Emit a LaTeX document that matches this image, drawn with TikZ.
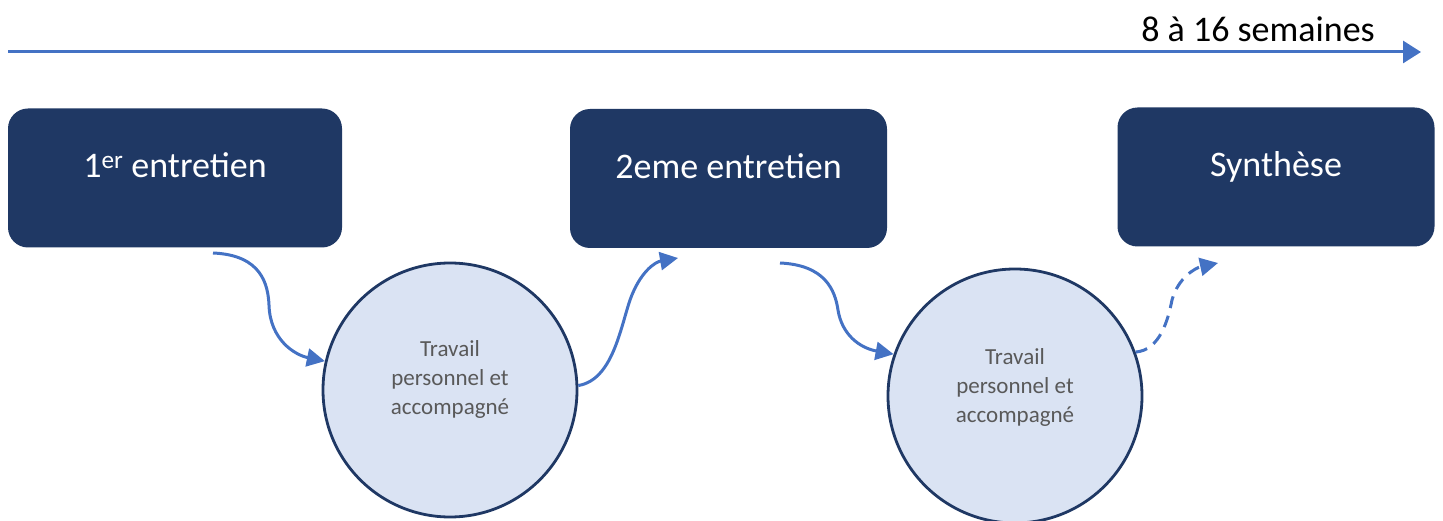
\documentclass[tikz,border=0pt]{standalone}
\usepackage{fontspec}
\setmainfont{Carlito}
\usetikzlibrary{arrows.meta}
\definecolor{navy}{HTML}{1F3864}
\definecolor{flowblue}{HTML}{4472C4}
\definecolor{worklight}{HTML}{DAE3F3}
\definecolor{worktext}{HTML}{595959}

\begin{document}
\begin{tikzpicture}[x=1pt,y=-1pt,
  stage/.style={fill=navy,rounded corners=20pt,minimum width=317pt,minimum height=139pt,
    inner sep=0pt,text=white,font=\fontsize{36}{43}\selectfont,text height=30pt,text depth=30pt},
  work/.style={circle,draw=navy,line width=2.8pt,fill=worklight,minimum size=254pt,inner sep=0pt},
  worklabel/.style={text=worktext,align=center,font=\fontsize{23}{29}\selectfont},
  flow/.style={draw=flowblue,line width=3pt,-{Triangle[length=18pt,width=18pt]}}]
\useasboundingbox (0,0) rectangle (1443,521);
\coordinate (tstart) at (8,52);
\coordinate (tend) at (1421,52);
\draw[flowblue,line width=3pt,-{Triangle[length=18pt,width=22pt]}] (tstart) -- (tend);
\node[anchor=base east,inner sep=0pt,font=\fontsize{36}{42}\selectfont] (weeks) at (1375,42) {8 à 16 semaines};
\node[stage,minimum width=334pt] (first) at (175,178) {1\textsuperscript{er} entretien};
\node[stage] (second) at (728.5,178.5) {2eme entretien};
\node[stage] (synth) at (1276,177) {Synthèse};
\node[work] (work1) at (450,390) {};
\node[worklabel] (work1txt) at ([yshift=11pt]work1.center) {Travail\\personnel et\\accompagné};
\node[work] (work2) at (1015,396) {};
\node[worklabel] (work2txt) at ([yshift=9pt]work2.center) {Travail\\personnel et\\accompagné};
\coordinate (out1) at (213,253);
\coordinate (in2) at (678,258);
\coordinate (out2) at (780,263);
\coordinate (in3) at (1218,263);
\draw[flow] (out1) .. controls (262,255) and (268,285) .. (269,305)
  .. controls (270,340) and (295,355) .. (work1.167);
\draw[flow] (work1.2) .. controls (612,380) and (620,330) .. (630,300)
  .. controls (640,272) and (655,262) .. (in2);
\draw[flow] (out2) .. controls (825,265) and (835,290) .. (838,310)
  .. controls (842,335) and (860,348) .. (work2.161);
\draw[flow,dash pattern=on 12pt off 8pt] (work2.20) .. controls (1160,350) and (1168,320) .. (1172,300)
  .. controls (1178,278) and (1195,268) .. (in3);
\end{tikzpicture}
\end{document}
